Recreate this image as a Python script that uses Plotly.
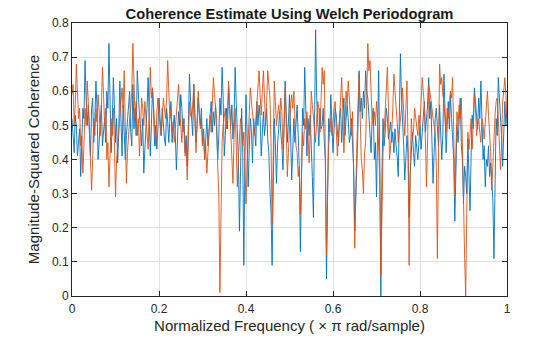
import numpy as np
import plotly.graph_objects as go

# Normalized frequency grid (x pi rad/sample): main points and half-step points
freq = np.linspace(0, 1, 201)
freq_half = (freq[:-1] + freq[1:]) / 2

# Magnitude-squared coherence (hundredths)
coh_blue = [
    52, 42, 50, 44, 35, 55, 69, 50, 47, 55, 45, 63, 40, 50, 44, 52, 60, 74, 42, 64,
    45, 39, 63, 41, 50, 47, 57, 48, 62, 55, 66, 53, 44, 36, 48, 64, 41, 61, 44, 43,
    58, 47, 50, 44, 51, 52, 45, 53, 37, 54, 59, 48, 42, 38, 65, 51, 62, 45, 58, 50,
    44, 40, 52, 50, 57, 54, 56, 40, 58, 67, 41, 55, 61, 50, 46, 67, 48, 19, 55, 9,
    59, 32, 52, 39, 47, 57, 56, 41, 54, 52, 46, 31, 9, 52, 33, 49, 48, 37, 63, 45,
    59, 34, 52, 52, 47, 13, 55, 67, 41, 47, 40, 23, 78, 48, 55, 50, 45, 5, 52, 59,
    42, 55, 49, 52, 45, 58, 52, 52, 47, 44, 19, 39, 66, 58, 60, 66, 58, 47, 52, 40,
    29, 66, 0, 52, 48, 52, 48, 45, 42, 44, 35, 71, 52, 34, 47, 23, 44, 42, 47, 40,
    50, 48, 57, 52, 64, 57, 33, 52, 48, 56, 40, 65, 42, 57, 59, 44, 22, 50, 54, 44,
    27, 35, 46, 25, 53, 61, 54, 58, 63, 40, 32, 38, 35, 32, 11, 52, 64, 53, 38, 57,
    55,
]
coh_blue_half = [
    46, 53, 41, 49, 45, 52, 58, 56, 41, 58, 51, 55, 46, 56, 48, 45, 55, 57, 50, 56,
    52, 48, 52, 56, 40, 52, 60, 44, 49, 47, 58, 49, 52, 43, 55, 53, 50, 54, 50, 49,
    52, 55, 46, 55, 45, 57, 49, 47, 46, 50, 55, 52, 47, 50, 57, 47, 55, 50, 53, 55,
    49, 46, 44, 53, 48, 50, 49, 47, 53, 58, 47, 49, 55, 56, 52, 57, 40, 44, 42, 40,
    48, 43, 48, 52, 44, 50, 52, 46, 47, 55, 42, 25, 38, 45, 44, 54, 44, 48, 54, 51,
    48, 43, 45, 56, 38, 40, 50, 55, 52, 53, 35, 50, 58, 44, 49, 55, 40, 35, 48, 50,
    49, 53, 44, 55, 50, 47, 56, 45, 52, 38, 33, 50, 54, 52, 55, 60, 53, 42, 55, 45,
    45, 40, 36, 44, 55, 46, 51, 48, 49, 41, 50, 58, 44, 40, 42, 36, 48, 38, 44, 45,
    43, 52, 48, 56, 52, 45, 42, 55, 44, 50, 47, 55, 50, 49, 52, 40, 36, 45, 58, 40,
    38, 30, 38, 41, 49, 57, 49, 52, 50, 44, 40, 44, 39, 28, 35, 47, 58, 47, 46, 50,
]
coh_orange = [
    59, 50, 68, 52, 44, 36, 55, 63, 48, 31, 52, 55, 59, 47, 67, 50, 40, 32, 52, 55,
    29, 44, 52, 61, 66, 33, 48, 55, 74, 52, 47, 41, 58, 50, 52, 43, 67, 61, 48, 54,
    53, 47, 58, 52, 69, 52, 48, 45, 54, 62, 48, 52, 41, 34, 57, 52, 62, 42, 60, 49,
    44, 40, 36, 50, 48, 64, 56, 38, 1, 45, 52, 49, 63, 47, 33, 55, 32, 45, 50, 48,
    27, 45, 61, 52, 47, 56, 66, 53, 66, 50, 66, 58, 21, 63, 50, 56, 58, 43, 61, 35,
    52, 59, 60, 44, 35, 24, 48, 52, 54, 39, 60, 52, 45, 57, 48, 67, 66, 12, 44, 52,
    52, 57, 41, 51, 64, 42, 60, 63, 50, 54, 14, 48, 65, 40, 30, 45, 74, 69, 52, 54,
    57, 44, 6, 42, 55, 67, 40, 48, 65, 56, 45, 52, 61, 47, 63, 9, 52, 48, 52, 47,
    50, 64, 56, 32, 62, 58, 52, 48, 11, 68, 64, 57, 48, 52, 60, 64, 30, 54, 56, 58,
    20, 0, 48, 49, 43, 59, 47, 52, 45, 50, 52, 60, 48, 31, 50, 57, 52, 37, 57, 64,
    52,
]
coh_orange_half = [
    62, 56, 60, 55, 47, 44, 50, 57, 41, 40, 47, 51, 54, 55, 59, 55, 45, 41, 47, 45,
    40, 49, 56, 55, 50, 42, 52, 60, 62, 57, 52, 48, 55, 57, 49, 54, 58, 56, 44, 58,
    50, 52, 55, 58, 60, 55, 51, 49, 57, 55, 45, 49, 44, 45, 53, 56, 52, 50, 55, 52,
    47, 44, 42, 53, 55, 59, 52, 30, 28, 50, 55, 54, 56, 42, 47, 44, 40, 52, 44, 40,
    38, 52, 57, 50, 52, 60, 59, 60, 58, 57, 62, 45, 40, 57, 53, 52, 54, 49, 50, 42,
    56, 55, 53, 42, 38, 35, 44, 49, 48, 47, 56, 50, 52, 55, 57, 62, 40, 30, 48, 47,
    55, 50, 46, 58, 55, 50, 56, 58, 47, 38, 32, 56, 54, 37, 42, 58, 66, 60, 50, 50,
    52, 35, 30, 48, 60, 55, 44, 55, 60, 51, 48, 55, 54, 55, 45, 35, 46, 55, 49, 53,
    57, 60, 45, 46, 60, 55, 50, 38, 40, 62, 59, 52, 55, 56, 58, 48, 42, 50, 52, 45,
    12, 30, 43, 52, 50, 55, 50, 48, 52, 46, 55, 53, 42, 40, 53, 58, 45, 44, 60, 59,
]

x_ticks = [0, 0.2, 0.4, 0.6, 0.8, 1]
x_labels = ["0", "0.2", "0.4", "0.6", "0.8", "1"]
y_ticks = [0, 0.1, 0.2, 0.3, 0.4, 0.5, 0.6, 0.7, 0.8]
y_labels = ["0", "0.1", "0.2", "0.3", "0.4", "0.5", "0.6", "0.7", "0.8"]


def merged(main_vals, half_vals):
    xs = np.concatenate([freq, freq_half])
    ys = np.concatenate([np.array(main_vals), np.array(half_vals)]) / 100
    order = np.argsort(xs)
    return xs[order], ys[order]


bx, by = merged(coh_blue, coh_blue_half)
ox, oy = merged(coh_orange, coh_orange_half)

fig = go.Figure()
fig.add_trace(go.Scatter(x=bx, y=by, mode="lines",
                         line=dict(color="#0072BD", width=0.9), showlegend=False))
fig.add_trace(go.Scatter(x=ox, y=oy, mode="lines",
                         line=dict(color="#D95319", width=0.9), showlegend=False))

FONT = "Liberation Sans, Arial, sans-serif"
axis_common = dict(
    showline=True, linecolor="#262626", linewidth=1, mirror="ticks",
    ticks="inside", ticklen=5, tickcolor="#262626",
    showgrid=True, gridcolor="#dfdfdf", gridwidth=1, zeroline=False,
    tickfont=dict(family=FONT, size=12, color="#262626"),
    automargin=False,
)

fig.update_layout(
    width=560, height=337,
    margin=dict(l=72, r=53, t=23, b=41),
    paper_bgcolor="white", plot_bgcolor="white",
    font=dict(family=FONT, color="#262626"),
    title=dict(text="<b>Coherence Estimate Using Welch Periodogram</b>",
               x=0.5, xref="paper", xanchor="center",
               y=1 - 13.5 / 337, yref="container", yanchor="middle",
               font=dict(size=14.7, color="#1a1a1a")),
    xaxis=dict(range=[0, 1], tickvals=x_ticks, ticktext=x_labels,
               ticklabelstandoff=2,
               title=dict(text="Normalized Frequency ( × π rad/sample)",
                          font=dict(size=15, color="#262626"), standoff=5),
               **axis_common),
    yaxis=dict(range=[0, 0.8], tickvals=y_ticks, ticktext=y_labels,
               title=dict(text="Magnitude-Squared Coherence",
                          font=dict(size=15, color="#262626"), standoff=8),
               **axis_common),
)

fig.write_html("out.html")
